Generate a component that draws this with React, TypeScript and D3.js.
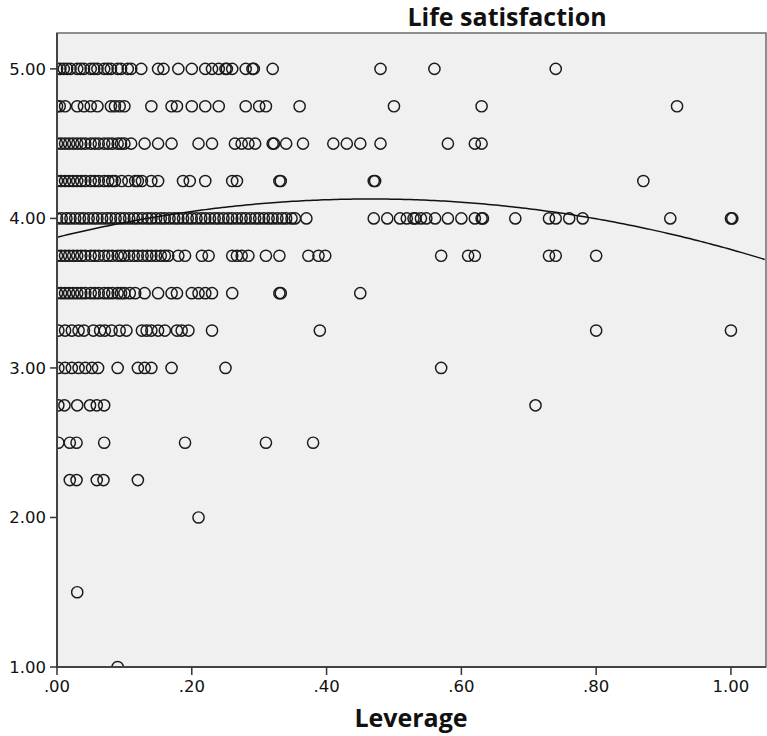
import React from 'react';
import * as d3 from 'd3';

// x values (leverage) of the cases at each life satisfaction level
const row500 = [0, 0.005, 0.01, 0.015, 0.02, 0.03, 0.035, 0.04, 0.05, 0.055, 0.06, 0.07, 0.075, 0.08, 0.09, 0.095, 0.105, 0.11, 0.125, 0.15, 0.158, 0.18, 0.2, 0.22, 0.23, 0.24, 0.25, 0.252, 0.26, 0.28, 0.29, 0.292, 0.32, 0.48, 0.56, 0.74];
const row475 = [0, 0.004, 0.012, 0.03, 0.04, 0.05, 0.06, 0.08, 0.086, 0.093, 0.1, 0.14, 0.17, 0.178, 0.2, 0.22, 0.24, 0.28, 0.3, 0.31, 0.36, 0.5, 0.63, 0.92];
const row450 = [0, 0.006, 0.012, 0.018, 0.024, 0.03, 0.036, 0.042, 0.05, 0.056, 0.062, 0.07, 0.076, 0.082, 0.09, 0.095, 0.1, 0.11, 0.13, 0.15, 0.17, 0.21, 0.23, 0.264, 0.274, 0.284, 0.294, 0.32, 0.322, 0.34, 0.365, 0.41, 0.43, 0.45, 0.48, 0.58, 0.62, 0.63];
const row425 = [0, 0.006, 0.012, 0.018, 0.024, 0.03, 0.036, 0.042, 0.05, 0.056, 0.062, 0.07, 0.076, 0.082, 0.086, 0.096, 0.106, 0.116, 0.12, 0.126, 0.14, 0.15, 0.187, 0.197, 0.22, 0.26, 0.267, 0.33, 0.332, 0.47, 0.472, 0.87];
const row400 = [0, 0.007, 0.014, 0.02, 0.027, 0.034, 0.04, 0.047, 0.054, 0.06, 0.067, 0.074, 0.08, 0.087, 0.094, 0.1, 0.107, 0.114, 0.12, 0.127, 0.134, 0.14, 0.147, 0.154, 0.16, 0.167, 0.174, 0.18, 0.187, 0.194, 0.2, 0.207, 0.214, 0.22, 0.227, 0.234, 0.24, 0.247, 0.254, 0.26, 0.267, 0.274, 0.28, 0.287, 0.294, 0.3, 0.307, 0.314, 0.32, 0.327, 0.334, 0.34, 0.348, 0.353, 0.37, 0.47, 0.49, 0.509, 0.519, 0.529, 0.532, 0.54, 0.548, 0.561, 0.58, 0.6, 0.62, 0.63, 0.632, 0.68, 0.73, 0.74, 0.76, 0.78, 0.91, 1.0, 1.002];
const row375 = [0, 0.006, 0.012, 0.018, 0.024, 0.03, 0.036, 0.042, 0.05, 0.056, 0.062, 0.07, 0.076, 0.082, 0.09, 0.095, 0.1, 0.107, 0.114, 0.12, 0.127, 0.134, 0.14, 0.147, 0.154, 0.16, 0.165, 0.18, 0.19, 0.215, 0.225, 0.26, 0.267, 0.274, 0.284, 0.31, 0.33, 0.373, 0.388, 0.398, 0.57, 0.61, 0.62, 0.73, 0.74, 0.8];
const row350 = [0, 0.006, 0.012, 0.018, 0.024, 0.03, 0.036, 0.042, 0.05, 0.056, 0.062, 0.07, 0.076, 0.082, 0.09, 0.095, 0.1, 0.108, 0.116, 0.13, 0.15, 0.17, 0.178, 0.2, 0.21, 0.22, 0.23, 0.26, 0.33, 0.332, 0.45];
const row325 = [0.002, 0.012, 0.022, 0.032, 0.04, 0.054, 0.064, 0.071, 0.081, 0.093, 0.103, 0.126, 0.133, 0.14, 0.15, 0.16, 0.178, 0.185, 0.195, 0.23, 0.39, 0.8, 1.0];
const row300 = [0.002, 0.012, 0.022, 0.032, 0.042, 0.052, 0.061, 0.09, 0.12, 0.13, 0.14, 0.17, 0.25, 0.57];
const row275 = [0.002, 0.011, 0.03, 0.049, 0.059, 0.07, 0.71];
const row250 = [0.002, 0.019, 0.029, 0.07, 0.19, 0.31, 0.38];
const row225 = [0.019, 0.029, 0.059, 0.069, 0.12];
const row200 = [0.21];
const row150 = [0.03];
const row100 = [0.09];

const levels = [5, 4.75, 4.5, 4.25, 4, 3.75, 3.5, 3.25, 3, 2.75, 2.5, 2.25, 2, 1.5, 1];
const rows = [row500, row475, row450, row425, row400, row375, row350, row325, row300, row275, row250, row225, row200, row150, row100];

// quadratic fit: a + b*x + c*x^2
const fitCoefs = [3.874, 1.1, -1.182];

const xTicks = [0, 0.2, 0.4, 0.6, 0.8, 1.0];
const yTicks = [1, 2, 3, 4, 5];

const W = 767;
const H = 736;
const left = 57;
const right = 766;
const top = 33;
const bottom = 667;

const App = () => {
  const x = d3.scaleLinear().domain([0, 1.052]).range([left, right]);
  const y = d3.scaleLinear().domain([1, 5.24]).range([bottom, top]);

  const points = rows.flatMap((r, i) => r.map((v) => ({ x: v, y: levels[i] })));

  const fit = (v) => fitCoefs[0] + fitCoefs[1] * v + fitCoefs[2] * v * v;
  const line = d3
    .line()
    .x((d) => x(d))
    .y((d) => y(fit(d)));
  const curveXs = d3.range(0, 1.0521, 0.005);

  const fmt = (v) => d3.format('.2f')(v).replace(/^0\./, '.');

  return (
    <svg
      width={W}
      height={H}
      style={{ position: 'absolute', left: 0, top: 0, background: '#fff' }}
      fontFamily="'DejaVu Sans', sans-serif"
    >
      <defs>
        <clipPath id="plot-clip">
          <rect x={left} y={top} width={right - left} height={bottom - top} />
        </clipPath>
      </defs>
      <rect x={left} y={top} width={right - left} height={bottom - top} fill="#f0f0f0" stroke="#6a6a6a" strokeWidth={1.5} />

      <g clipPath="url(#plot-clip)">
        {points.map((p, i) => (
          // eslint-disable-next-line react/no-array-index-key
          <circle key={i} cx={x(p.x)} cy={y(p.y)} r={5.6} fill="none" stroke="#1a1a1a" strokeWidth={1.45} />
        ))}
        <path d={line(curveXs)} fill="none" stroke="#111" strokeWidth={1.5} />
      </g>

      {/* axes */}
      <line x1={left} x2={left} y1={top} y2={bottom + 1} stroke="#444" strokeWidth={2} />
      <line x1={left} x2={right} y1={bottom} y2={bottom} stroke="#444" strokeWidth={2} />

      {yTicks.map((t) => (
        <g key={t}>
          <line x1={left - 7} x2={left} y1={y(t)} y2={y(t)} stroke="#333" strokeWidth={1.5} />
          <text x={left - 11} y={y(t)} dy="0.36em" textAnchor="end" fontSize={16.5} fill="#111">
            {fmt(t)}
          </text>
        </g>
      ))}
      {xTicks.map((t) => (
        <g key={t}>
          <line x1={x(t)} x2={x(t)} y1={bottom} y2={bottom + 8} stroke="#333" strokeWidth={1.5} />
          <text x={x(t)} y={bottom + 25} textAnchor="middle" fontSize={16.5} fill="#111">
            {fmt(t)}
          </text>
        </g>
      ))}

      <text x={507} y={26} textAnchor="middle" fontSize={25} fontWeight="bold" fontFamily="'Open Sans', sans-serif" fill="#111">
        Life satisfaction
      </text>
      <text x={411} y={727} textAnchor="middle" fontSize={25} fontWeight="bold" fontFamily="'Open Sans', sans-serif" fill="#111">
        Leverage
      </text>
    </svg>
  );
};

export default App;
